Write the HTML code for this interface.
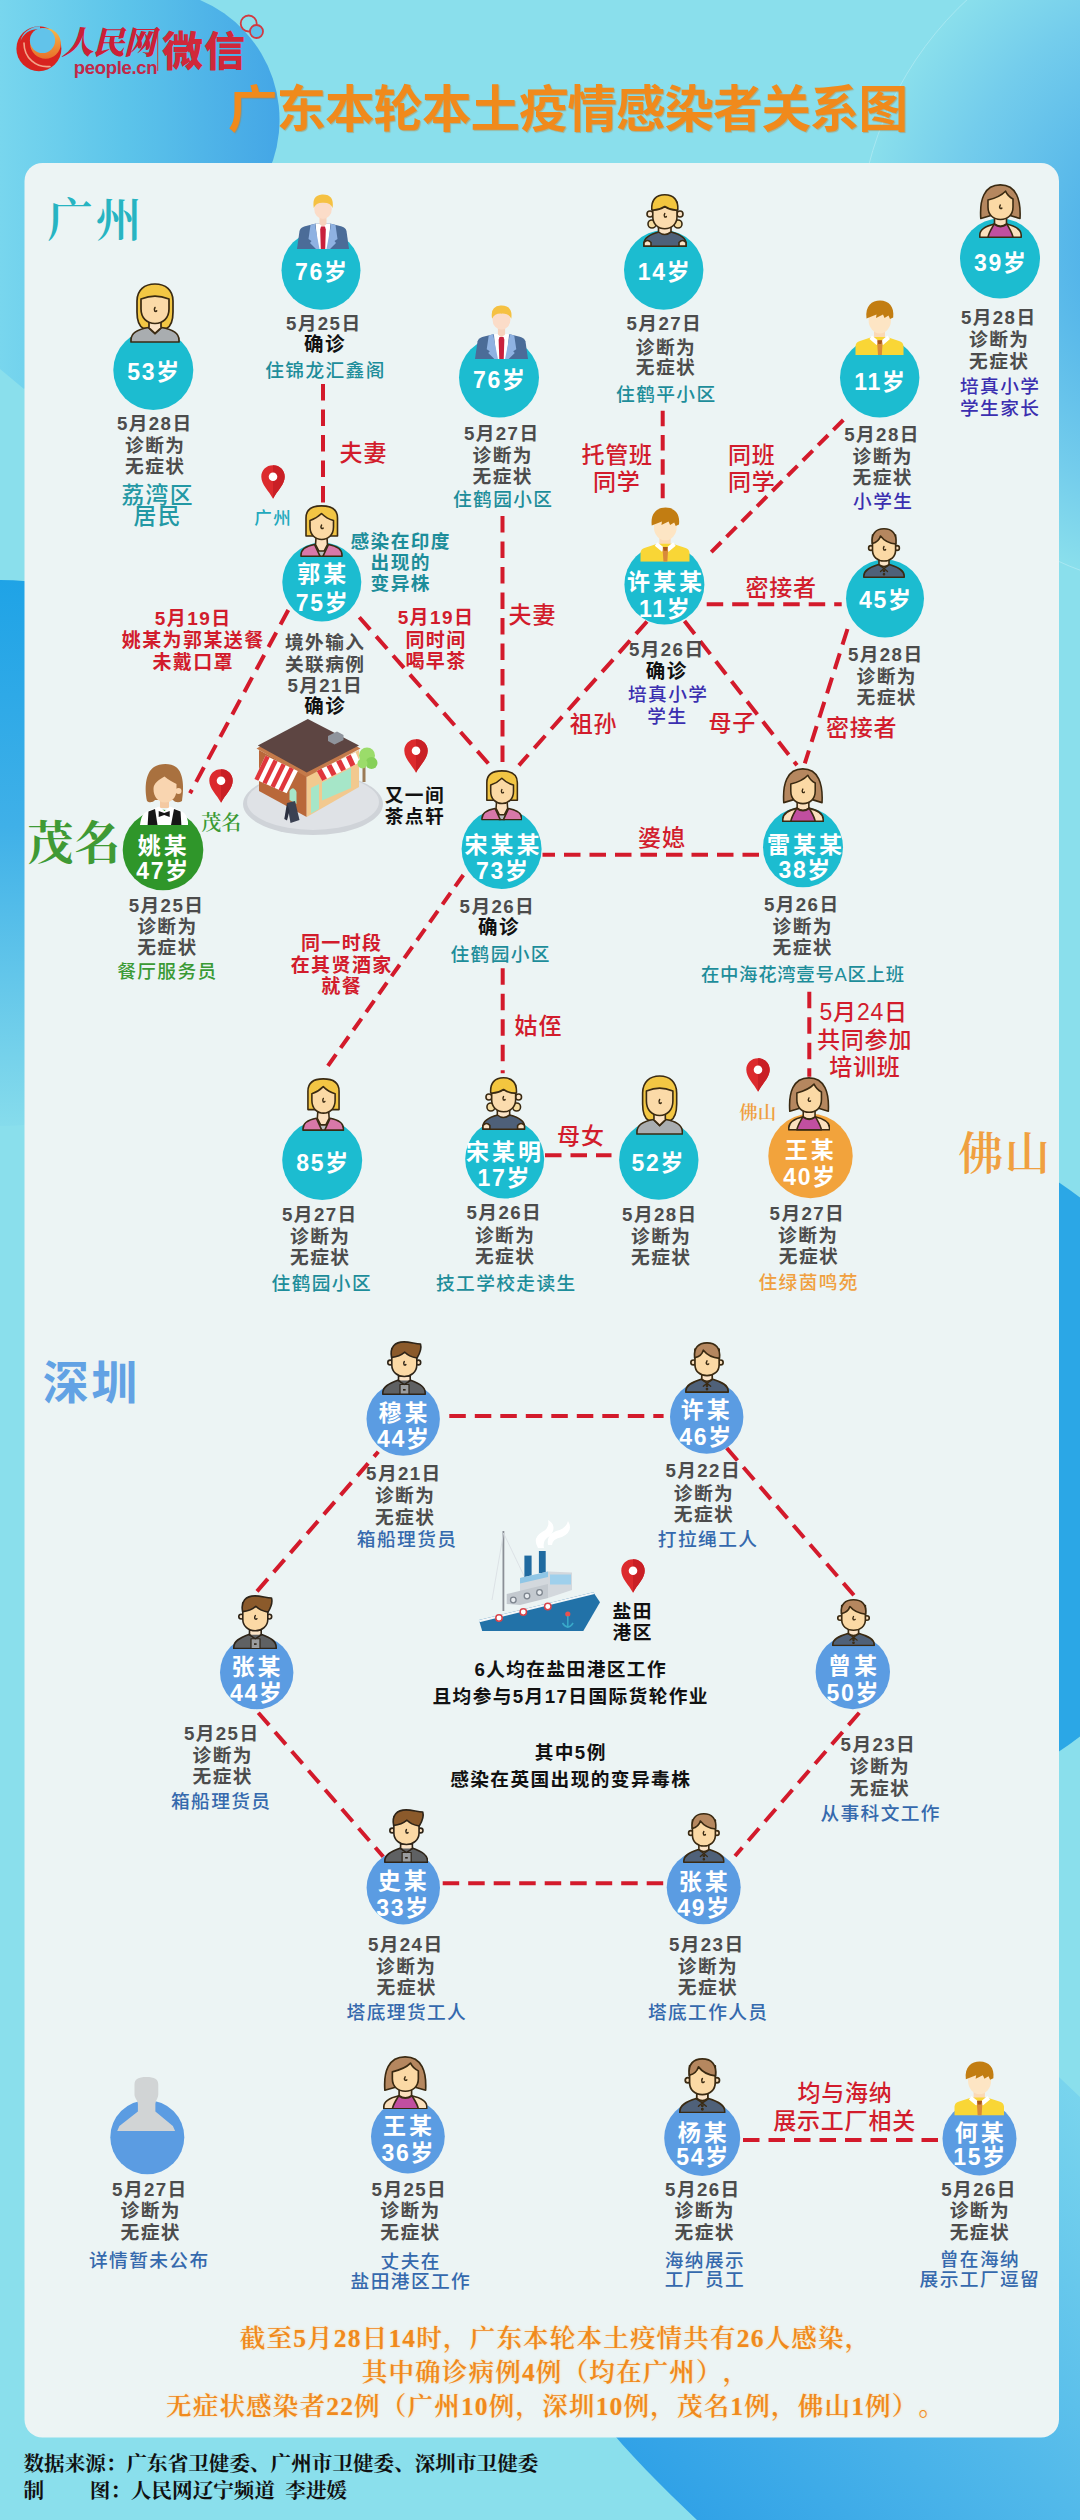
<!DOCTYPE html>
<html lang="zh-CN"><head><meta charset="utf-8"><title>广东本轮本土疫情感染者关系图</title>
<style>
html,body{margin:0;padding:0;background:#8adfec;}
body{width:1080px;height:2520px;overflow:hidden;}
#page{position:relative;width:1080px;height:2520px;overflow:hidden;font-family:"Liberation Sans","Noto Sans CJK SC",sans-serif;}
.abs{position:absolute;}
.t{position:absolute;white-space:nowrap;transform:translate(-50%,-50%);line-height:1;}
.w{color:#fff;font-weight:700;}
.g{font-weight:700;letter-spacing:1.4px;padding-left:1.4px;}
.b{font-weight:700;letter-spacing:1.4px;padding-left:1.4px;}
.bb{font-weight:700;}
.m{font-weight:700;letter-spacing:1.4px;padding-left:1.4px;}
.m2{font-weight:500;letter-spacing:0.3px;padding-left:0.3px;}
.r{font-weight:500;letter-spacing:1.4px;padding-left:1.4px;}
.rb{font-weight:700;letter-spacing:1.4px;padding-left:1.4px;}
.rl{font-weight:500;letter-spacing:0.8px;padding-left:0.8px;}
.s{font-family:"Liberation Serif","Noto Serif CJK SC",serif;}
.s2{font-family:"Liberation Serif","Noto Serif CJK SC",serif;font-weight:600;}
.sm{text-spacing-trim:space-all;font-family:"Liberation Serif","Noto Serif CJK SC",serif;font-weight:600;text-shadow:0 0 2px rgba(255,210,140,.9);}
.dg{font-weight:700;}
.sb{text-spacing-trim:space-all;font-family:"Liberation Serif","Noto Serif CJK SC",serif;font-weight:700;}
.l{transform:translate(0,-50%);}

</style></head><body>
<div id="page">
<svg class="abs" width="1080" height="2520" viewBox="0 0 1080 2520" style="left:0;top:0">
<defs>
<linearGradient id="gTL" x1="0" y1="0" x2="1" y2="0"><stop offset="0" stop-color="#78d6ee"/><stop offset="0.45" stop-color="#5cc4ea"/><stop offset="1" stop-color="#44a6e6"/></linearGradient>
<radialGradient id="gTR" gradientUnits="userSpaceOnUse" cx="1200" cy="250" r="342"><stop offset="0.3" stop-color="#50b2e9"/><stop offset="0.75" stop-color="#74cdec"/><stop offset="1" stop-color="#8adfec"/></radialGradient>
<linearGradient id="gL" x1="0" y1="0" x2="0" y2="1"><stop offset="0" stop-color="#1fa3e6"/><stop offset="0.45" stop-color="#3fb0e8"/><stop offset="1" stop-color="#86dcec"/></linearGradient>
<linearGradient id="gBR" gradientUnits="userSpaceOnUse" x1="1100" y1="2060" x2="620" y2="2520"><stop offset="0" stop-color="#7ed8ee"/><stop offset="0.5" stop-color="#52b9ea"/><stop offset="1" stop-color="#2a9de6"/></linearGradient>
</defs>
<rect width="1080" height="2520" fill="#8adfec"/>
<circle cx="1200" cy="250" r="342" fill="url(#gTR)" stroke="#a8e8f2" stroke-width="1"/>
<path d="M0,0 H200 A130,130 0 0 1 262,185 L24,389 L0,369 Z" fill="url(#gTL)"/>
<circle cx="0" cy="853" r="273" fill="url(#gL)"/>
<circle cx="871" cy="1467" r="341" fill="#2ba7e6"/>
<path d="M1040,2059 L1080,2097 L1080,2520 L697,2520 C660,2485 630,2455 600,2418 L600,2300 L1040,2300 Z" fill="url(#gBR)"/>
<rect x="24.5" y="163" width="1034.5" height="2274.5" rx="18" ry="18" fill="#ecf4f4"/>
</svg>

<svg width="0" height="0" style="position:absolute;left:0;top:0" aria-hidden="true">
<defs>
<!-- A businessman -->
<symbol id="av-A" viewBox="0 0 52 55" preserveAspectRatio="none">
<path d="M0,55 L2.5,37 Q3.5,33.5 8,32.3 L19,29.5 L33,29.5 L44,32.3 Q48.5,33.5 49.5,37 L52,55 Z" fill="#4b6c98"/>
<path d="M18.5,29.5 L33.5,29.5 L31,55 L21,55 Z" fill="#fff"/>
<path d="M19,29.5 L13.5,31 L11.5,45 L14.5,47 L13,49 L19,55 L22.5,55 L18,31 Z" fill="#8fb2e2"/>
<path d="M33,29.5 L38.5,31 L40.5,45 L37.5,47 L39,49 L33,55 L29.5,55 L34,31 Z" fill="#8fb2e2"/>
<path d="M22.5,23 H29.5 V30 L26,33 L22.500,30 Z" fill="#f6d3bd"/>
<ellipse cx="26" cy="15" rx="8.8" ry="10" fill="#fbdcc8"/>
<path d="M16.8,14 Q14.5,1.500 25,0.6 Q37.5,0 35.600,14 Q33.500,8.500 26,8.800 Q19,8.500 16.800,14 Z" fill="#f5c142"/>
<path d="M24,32.500 L28,32.500 L28.800,35.500 L28.200,55 L23.800,55 L23.200,35.500 Z" fill="#c9203c"/>
</symbol>
<!-- B blond long hair, grey top -->
<symbol id="av-B" viewBox="0 0 50 60" preserveAspectRatio="none">
<g stroke="#3a2a12" stroke-width="1.700" stroke-linejoin="round" stroke-linecap="round">
<path d="M13.500,45.500 C8.500,43 7,37 7,29 L7,18 C7,7 14.500,1 25,1 C35.500,1 43,7 43,18 L43,29 C43,37 41.500,43 36.500,45.500 Z" fill="#f3c744"/>
<path d="M1,59 L1,57 C1,50 8,46.200 18.500,44.500 L25,50.500 L31.500,44.500 C42,46.200 49,50 49,57 L49,59 Z" fill="#a9adb0"/>
<path d="M19,39 L19,45 L25,50.500 L31,45 L31,39 Z" fill="#fbe3c6"/>
<path d="M11,16 C15,14.500 20,13.200 25,13.200 C30,13.200 35,14.500 39,16 L39,26 C39,35 33,40.500 25,40.500 C17,40.500 11,35 11,26 Z" fill="#fbdaa8"/>
<path d="M25,24.500 q-1.300,2 -0.300,3.600 q1.300,0.700 2,-0.300" fill="none" stroke-width="1.500"/>
</g>
</symbol>
<!-- C blond bob, pink cardigan -->
<symbol id="av-C" viewBox="0 0 43 52" preserveAspectRatio="none">
<g stroke="#3a2a12" stroke-width="1.600" stroke-linejoin="round" stroke-linecap="round">
<path d="M6,31 L6,13 C6,4.500 12,0.900 21.500,0.900 C31,0.900 37.500,4.500 37.500,13 L37.500,31 L30,31 L13,31 Z" fill="#f2c544"/>
<path d="M16,33 L15.500,39.500 L21.500,51 L27.500,39.500 L27,33 Z" fill="#fbe0bd"/>
<path d="M16.500,46 L26.500,46 L24,51.200 L19,51.200 Z" fill="#b9bcc0"/>
<path d="M1,51.200 L1,50 C1,44 6,41 14.500,39.500 L20,51.200 Z" fill="#d878a9"/>
<path d="M42,51.200 L42,50 C42,44 37,41 28.500,39.500 L23,51.200 Z" fill="#d878a9"/>
<path d="M10,15.500 Q16.500,13.500 21.500,8.500 Q26.500,13.500 33.500,15.500 L33.500,22 C33.500,30 28,34.500 21.700,34.500 C15.500,34.500 10,30 10,22 Z" fill="#fbd9a5"/>
<path d="M21.600,20 q-1.200,1.800 -0.200,3.300 q1.200,0.600 1.800,-0.300" fill="none" stroke-width="1.400"/>
</g>
</symbol>
<!-- D girl with buns, slate top -->
<symbol id="av-D" viewBox="0 0 44 53" preserveAspectRatio="none">
<g stroke="#3a2a12" stroke-width="1.600" stroke-linejoin="round" stroke-linecap="round">
<circle cx="9" cy="30" r="4" fill="#f6dca0"/><circle cx="35" cy="30" r="4" fill="#f6dca0"/>
<circle cx="7" cy="20" r="3" fill="#fbe3c6"/><circle cx="37" cy="20" r="3" fill="#fbe3c6"/>
<path d="M0.800,52.200 L0.800,50 C0.800,43 8,40 16,38 L28,38 C36,40 43.200,43 43.200,50 L43.200,52.200 Z" fill="#4e6079"/>
<path d="M1,52 L1,48.500 Q4.500,44.500 8,48.500 L8,52 Z" fill="#fbe3c6"/>
<path d="M43,52 L43,48.500 Q39.500,44.500 36,48.500 L36,52 Z" fill="#fbe3c6"/>
<path d="M15.500,33 L15.500,38 Q21.700,43 28,38 L28,33 Z" fill="#fbe3c6"/>
<path d="M9.800,8 L9.800,23 C9.800,30 15,34.800 21.800,34.800 C28.500,34.800 34,30 34,23 L34,8 Z" fill="#fbdcae"/>
<path d="M8.800,16 C8,6 13,0.800 21.800,0.800 C30.500,0.800 35.500,6 34.800,16 C30,16.500 25.500,15 21.800,12.500 C18,15 13.500,16.500 8.800,16 Z" fill="#f3c63f"/>
<path d="M21.800,19.500 q-1.200,1.800 -0.200,3.300 q1.200,0.600 1.800,-0.300" fill="none" stroke-width="1.400"/>
</g>
</symbol>
<!-- E boy, yellow jacket -->
<symbol id="av-E" viewBox="0 0 49 55" preserveAspectRatio="none">
<path d="M19,30 H30 V40 H19 Z" fill="#fbd9b5"/>
<ellipse cx="24.800" cy="20" rx="11.200" ry="13.500" fill="#fde5c4"/>
<path d="M0.500,55 L0.500,46 Q0.800,42 5,41 L17,37 L32,37 L44,41 Q48.200,42 48.500,46 L48.500,55 Z" fill="#f9d636"/>
<path d="M17,35.500 L24.800,42 L32.500,35.500 L35,39 L28,45 L24.800,42 L21.500,45 L14.500,39 Z" fill="#fff"/>
<path d="M22.500,40.500 L27,40.500 L27.500,43.500 L26.800,55 L23,55 L22.200,43.500 Z" fill="#d98a3a"/>
<path d="M22.300,40.300 L27.300,40.300 L26.300,44 L23.300,44 Z" fill="#a9591b"/>
<path d="M11.500,18.500 C10,6 17,0.600 25,0.600 C34,0.600 39.500,7 38.200,17.500 L35,19 L33.500,15.500 L29.500,18 L28,14.500 L21,18 L21.500,14.500 Z" fill="#c27d12"/>
</symbol>
<!-- F brown hair woman, purple top -->
<symbol id="av-F" viewBox="0 0 43 54" preserveAspectRatio="none">
<g stroke="#3a2a12" stroke-width="1.600" stroke-linejoin="round" stroke-linecap="round">
<path d="M1.800,34.500 C0.500,16 5,0.900 21.300,0.900 C37.500,0.900 42,16 41,34.500 L31,31.500 L12,31.500 Z" fill="#b5875f"/>
<path d="M0.800,53.200 L0.800,51 C0.800,45 7,42 15.500,40 L27.500,40 C36,42 42.200,45 42.200,51 L42.200,53.200 Z" fill="#fbe0bd"/>
<path d="M15.500,34 L15.500,40 Q21.500,44.500 27.500,40 L27.500,34 Z" fill="#fbe0bd"/>
<path d="M15,40.200 Q21.500,45 28,40.200 C30,44 33,48 34,53.200 L9,53.200 C10,48 13,44 15,40.200 Z" fill="#c14fa0"/>
<path d="M9,16 C15,14.500 22,12 26.500,7.200 C28,10.500 31,13.500 34,15 L34,23 C34,31 28.500,35.500 21.500,35.500 C14.500,35.500 9,31 9,23 Z" fill="#fbd9a5"/>
<path d="M21.300,21 q-1.200,1.800 -0.200,3.300 q1.200,0.600 1.800,-0.300" fill="none" stroke-width="1.400"/>
</g>
</symbol>
<!-- G man brown hair, slate polo -->
<symbol id="av-G" viewBox="0 0 42 50" preserveAspectRatio="none">
<g stroke="#3a2a12" stroke-width="1.600" stroke-linejoin="round" stroke-linecap="round">
<circle cx="8" cy="20" r="2.400" fill="#fbe0bd"/><circle cx="34" cy="20" r="2.400" fill="#fbe0bd"/>
<path d="M0.800,49.200 L0.800,48 C0.800,42.500 6,39.500 15.500,36.500 L26.500,36.500 C36,39.500 41.200,42.500 41.200,48 L41.200,49.200 Z" fill="#4f6179"/>
<path d="M16,32 L16,36.500 Q21,40.500 26,36.500 L26,32 Z" fill="#fbe3c6"/>
<path d="M16,37 L21,40.500 L17.500,43.500 M26,37 L21,40.500 L24.500,43.500" fill="none" stroke-width="1.300"/>
<circle cx="21" cy="43" r="0.500" fill="#3a2a12"/><circle cx="21" cy="46.200" r="0.500" fill="#3a2a12"/>
<path d="M9.500,7 L9.500,22 C9.500,29 14.500,33 21,33 C27.500,33 32.600,29 32.600,22 L32.600,7 Z" fill="#fbd9a5"/>
<path d="M9.200,15.500 C8,5.500 13,0.800 21,0.800 C29,0.800 34,5.500 32.900,16 C27,15.500 21,12.500 17.500,8 C16.500,11.500 13.500,14.500 9.200,15.500 Z" fill="#b5875f"/>
<path d="M21,18.500 q-1.200,1.800 -0.200,3.300 q1.200,0.600 1.800,-0.300" fill="none" stroke-width="1.400"/>
</g>
</symbol>
<!-- H man quiff, dark grey suit -->
<symbol id="av-H" viewBox="0 0 44 54" preserveAspectRatio="none">
<g stroke="#2e2418" stroke-width="1.600" stroke-linejoin="round" stroke-linecap="round">
<circle cx="8.200" cy="21.500" r="2.400" fill="#fbe0bd"/><circle cx="36.300" cy="21.500" r="2.400" fill="#fbe0bd"/>
<path d="M0.800,53.200 L0.800,52 C0.800,46 6,43 16.500,39 L28,39 C38.500,43 43.200,46 43.200,52 L43.200,53.200 Z" fill="#5f6163"/>
<path d="M16.500,35 L16.500,39.500 L22.300,43 L28.200,39.500 L28.200,35 Z" fill="#fbe3c6"/>
<path d="M18,43.500 H27 V53.200 H18 Z" fill="#9b9d9f" stroke-width="1.200"/>
<path d="M16.500,39.500 L22.300,43.500 L28.200,39.500" fill="#5f6163" stroke-width="1.300"/>
<rect x="21" y="48" width="2.600" height="1.600" fill="#2e2418" stroke="none"/>
<path d="M9.800,8 L9.800,24 C9.800,31 15.500,35.500 22.300,35.500 C29,35.500 34.800,31 34.800,24 L34.800,8 Z" fill="#fbd9a5"/>
<path d="M9.600,16.500 C7.500,6 13,0.900 22,0.900 C28,0.900 33,2.800 38.500,3 C40,8 37.500,13 35,17 C30,16 25.500,14 22.800,11.200 C19.500,14 14.500,16 9.600,16.500 Z" fill="#8b5a2b"/>
<path d="M22.300,20.500 q-1.200,1.800 -0.200,3.300 q1.200,0.600 1.800,-0.300" fill="none" stroke-width="1.400"/>
</g>
</symbol>
<!-- I waitress -->
<symbol id="av-I" viewBox="0 0 48 62" preserveAspectRatio="none">
<path d="M7,38 C4.500,26 5,10 14,4 C20,0 31,0 36,4 C44,10 44,26 42,38 C39,40 35,39.500 33,37 L15,37 C13,39.500 9,40 7,38 Z" fill="#a9713f"/>
<circle cx="38.500" cy="28" r="3" fill="#f9d5b0"/>
<path d="M20,36 H29 V45 H20 Z" fill="#f4c9a2"/>
<path d="M13.500,26 C13.500,20 19,16.500 24.500,13.500 C28,17 33,19 36.500,21 L36.500,27 C36.500,35 31,39.500 25,39.500 C18.500,39.500 13.500,34 13.500,26 Z" fill="#f9d5b0"/>
<path d="M0,62 C1,54 3,50 8,48 L19,43.500 L24.500,48 L30,43.500 L41,48 C45.500,50 47.500,54 48.500,62 Z" fill="#fff"/>
<path d="M7.600,62 L8.500,48.500 L15,46 L17.500,62 Z" fill="#161616"/>
<path d="M41.400,62 L40.500,48.500 L34,46 L31,62 Z" fill="#161616"/>
<path d="M18.700,48 L24.200,50 L29.700,48 L29.700,54 L24.200,52 L18.700,54 Z" fill="#161616"/>
</symbol>
<!-- J silhouette -->
<symbol id="av-J" viewBox="0 0 60 56" preserveAspectRatio="none">
<path d="M18,8 C18,2 22,0 30.200,0 C38.500,0 42.500,2 42.500,8 L42.500,18 C42.500,21.500 40,23.500 39.500,27.500 L39.500,35.500 L57.500,50.500 L60,56 L0,56 L2.500,50.500 L21.500,35.500 L21.500,27.500 C21,23.500 18,21.500 18,18 Z" fill="#d1d4d5"/>
</symbol>
<!-- pin -->
<symbol id="pin" viewBox="0 0 24 34" preserveAspectRatio="none">
<path d="M12,0.300 C5.200,0.300 0.300,5.200 0.300,11.800 C0.300,19.500 7.500,25.500 12,33.700 C16.500,25.500 23.700,19.500 23.700,11.800 C23.700,5.200 18.800,0.300 12,0.300 Z" fill="#dc2a2d"/>
<path d="M12,0.300 C18.800,0.300 23.700,5.200 23.700,11.800 C23.700,19.500 16.500,25.500 12,33.700 Z" fill="#c91f25"/>
<circle cx="12" cy="11.800" r="4.300" fill="#fff"/>
</symbol>
</defs>
</svg>

<svg class="abs" width="1080" height="2520" viewBox="0 0 1080 2520" style="left:0;top:0">
<g fill="none" stroke="#d31a2b" stroke-width="4">
<line x1="323" y1="384" x2="323" y2="503" stroke-dasharray="16.5 9" stroke-dashoffset="0"/>
<line x1="502.5" y1="516" x2="502.5" y2="762" stroke-dasharray="16.5 9" stroke-dashoffset="0"/>
<line x1="662.7" y1="410.7" x2="662.7" y2="498.3" stroke-dasharray="15.5 8.8" stroke-dashoffset="0"/>
<line x1="843.3" y1="420" x2="706.7" y2="556.7" stroke-dasharray="14 7.6" stroke-dashoffset="0"/>
<line x1="706.7" y1="604.3" x2="841.7" y2="604.3" stroke-dasharray="16.5 9" stroke-dashoffset="0"/>
<line x1="847.5" y1="629" x2="804.8" y2="763.4" stroke-dasharray="16.5 9" stroke-dashoffset="0"/>
<line x1="647" y1="621.5" x2="518.9" y2="765.3" stroke-dasharray="16.5 9" stroke-dashoffset="0"/>
<line x1="684.5" y1="621" x2="797" y2="765.3" stroke-dasharray="16.5 9" stroke-dashoffset="0"/>
<line x1="359.3" y1="617.3" x2="488.8" y2="764" stroke-dasharray="16.5 9" stroke-dashoffset="0"/>
<line x1="288.3" y1="610" x2="190" y2="793.3" stroke-dasharray="16.5 9" stroke-dashoffset="0"/>
<line x1="542.5" y1="854.8" x2="759.5" y2="854.8" stroke-dasharray="16.5 9" stroke-dashoffset="4"/>
<line x1="463.3" y1="875" x2="325" y2="1070" stroke-dasharray="14 8" stroke-dashoffset="0"/>
<line x1="502.7" y1="968.3" x2="502.7" y2="1073.3" stroke-dasharray="16.5 9" stroke-dashoffset="0"/>
<line x1="545" y1="1155.3" x2="611.5" y2="1155.3" stroke-dasharray="16.5 9" stroke-dashoffset="0"/>
<line x1="809.3" y1="991.7" x2="809.3" y2="1076.7" stroke-dasharray="16.5 9" stroke-dashoffset="0"/>
<line x1="449.3" y1="1416" x2="663.6" y2="1416" stroke-dasharray="16.5 9" stroke-dashoffset="0"/>
<line x1="378.3" y1="1451.7" x2="256.7" y2="1591.7" stroke-dasharray="16.5 9" stroke-dashoffset="10"/>
<line x1="726.7" y1="1448" x2="853.9" y2="1595.3" stroke-dasharray="16.5 9" stroke-dashoffset="0"/>
<line x1="258.3" y1="1712.7" x2="383.3" y2="1856.7" stroke-dasharray="16.5 9" stroke-dashoffset="0"/>
<line x1="859.3" y1="1712.7" x2="735" y2="1856" stroke-dasharray="16.5 9" stroke-dashoffset="0"/>
<line x1="442.7" y1="1883.3" x2="666.7" y2="1883.3" stroke-dasharray="16.5 9" stroke-dashoffset="0"/>
<line x1="743" y1="2140" x2="939.5" y2="2140" stroke-dasharray="16.5 9" stroke-dashoffset="0"/>
</g>
<circle cx="321" cy="270.3" r="39.5" fill="#1cbcd0"/>
<circle cx="153.3" cy="370" r="40" fill="#1cbcd0"/>
<circle cx="499" cy="377.5" r="40" fill="#1cbcd0"/>
<circle cx="663.7" cy="270" r="39.7" fill="#1cbcd0"/>
<circle cx="1000" cy="258.5" r="40" fill="#1cbcd0"/>
<circle cx="879.7" cy="377.7" r="39.7" fill="#1cbcd0"/>
<circle cx="321.8" cy="582" r="39.5" fill="#1cbcd0"/>
<circle cx="664.4" cy="584.5" r="40" fill="#1cbcd0"/>
<circle cx="885" cy="598.5" r="39" fill="#1cbcd0"/>
<circle cx="501.6" cy="849" r="40" fill="#1cbcd0"/>
<circle cx="803" cy="847.2" r="40" fill="#1cbcd0"/>
<circle cx="322.2" cy="1160" r="40" fill="#1cbcd0"/>
<circle cx="504.7" cy="1159" r="39.5" fill="#1cbcd0"/>
<circle cx="658.8" cy="1160" r="39.7" fill="#1cbcd0"/>
<circle cx="163" cy="850" r="40.3" fill="#2f962a"/>
<circle cx="810.5" cy="1156" r="42.2" fill="#f2a33c"/>
<circle cx="403.2" cy="1419" r="36.7" fill="#5b9ce2"/>
<circle cx="706.7" cy="1417" r="36.7" fill="#5b9ce2"/>
<circle cx="256.7" cy="1672.5" r="36.7" fill="#5b9ce2"/>
<circle cx="852.8" cy="1672" r="37.2" fill="#5b9ce2"/>
<circle cx="403.3" cy="1887.7" r="36.7" fill="#5b9ce2"/>
<circle cx="703.7" cy="1887.3" r="37" fill="#5b9ce2"/>
<circle cx="147.3" cy="2137.2" r="37" fill="#5b9ce2"/>
<circle cx="407.9" cy="2136.5" r="36.9" fill="#5b9ce2"/>
<circle cx="702.2" cy="2138" r="38" fill="#5b9ce2"/>
<circle cx="979.5" cy="2138.4" r="37" fill="#5b9ce2"/>
</svg>
<svg class="abs" style="left:297px;top:194px" width="52" height="55"><use href="#av-A" width="52" height="55"/></svg>
<svg class="abs" style="left:130px;top:283px" width="50" height="60"><use href="#av-B" width="50" height="60"/></svg>
<svg class="abs" style="left:475px;top:305px" width="53" height="54"><use href="#av-A" width="53" height="54"/></svg>
<svg class="abs" style="left:643px;top:194px" width="44" height="53"><use href="#av-D" width="44" height="53"/></svg>
<svg class="abs" style="left:979px;top:184px" width="43" height="54"><use href="#av-F" width="43" height="54"/></svg>
<svg class="abs" style="left:855px;top:300px" width="49" height="55"><use href="#av-E" width="49" height="55"/></svg>
<svg class="abs" style="left:300px;top:505px" width="43" height="52"><use href="#av-C" width="43" height="52"/></svg>
<svg class="abs" style="left:640px;top:507px" width="50" height="54.7"><use href="#av-E" width="50" height="54.7"/></svg>
<svg class="abs" style="left:863px;top:528px" width="42" height="50"><use href="#av-G" width="42" height="50"/></svg>
<svg class="abs" style="left:480.8px;top:770.2px" width="41.7" height="50.6"><use href="#av-C" width="41.7" height="50.6"/></svg>
<svg class="abs" style="left:781.8px;top:768px" width="42" height="54.2"><use href="#av-F" width="42" height="54.2"/></svg>
<svg class="abs" style="left:302px;top:1078px" width="42.5" height="53"><use href="#av-C" width="42.5" height="53"/></svg>
<svg class="abs" style="left:482px;top:1077px" width="43.5" height="53"><use href="#av-D" width="43.5" height="53"/></svg>
<svg class="abs" style="left:636px;top:1075px" width="47.3" height="60"><use href="#av-B" width="47.3" height="60"/></svg>
<svg class="abs" style="left:140px;top:763px" width="48" height="62"><use href="#av-I" width="48" height="62"/></svg>
<svg class="abs" style="left:787.7px;top:1077.3px" width="42.3" height="53.7"><use href="#av-F" width="42.3" height="53.7"/></svg>
<svg class="abs" style="left:382px;top:1341px" width="44" height="54"><use href="#av-H" width="44" height="54"/></svg>
<svg class="abs" style="left:685px;top:1342px" width="44" height="51"><use href="#av-G" width="44" height="51"/></svg>
<svg class="abs" style="left:233.3px;top:1595px" width="44" height="54.3"><use href="#av-H" width="44" height="54.3"/></svg>
<svg class="abs" style="left:831.7px;top:1599.4px" width="43" height="47.3"><use href="#av-G" width="43" height="47.3"/></svg>
<svg class="abs" style="left:384px;top:1809.3px" width="44.3" height="54"><use href="#av-H" width="44.3" height="54"/></svg>
<svg class="abs" style="left:683.3px;top:1813.3px" width="41.7" height="50"><use href="#av-G" width="41.7" height="50"/></svg>
<svg class="abs" style="left:117px;top:2077px" width="58.3" height="54.4"><use href="#av-J" width="58.3" height="54.4"/></svg>
<svg class="abs" style="left:383.4px;top:2055.6px" width="44.7" height="53.6"><use href="#av-F" width="44.7" height="53.6"/></svg>
<svg class="abs" style="left:678.9px;top:2057.5px" width="46.7" height="55.5"><use href="#av-G" width="46.7" height="55.5"/></svg>
<svg class="abs" style="left:954.3px;top:2061.4px" width="50.5" height="54.4"><use href="#av-E" width="50.5" height="54.4"/></svg>
<!-- pins -->
<svg class="abs" style="left:261px;top:465px" width="24" height="34"><use href="#pin" width="24" height="34"/></svg>
<svg class="abs" style="left:209px;top:769px" width="24" height="34"><use href="#pin" width="24" height="34"/></svg>
<svg class="abs" style="left:404px;top:739px" width="24" height="34"><use href="#pin" width="24" height="34"/></svg>
<svg class="abs" style="left:746px;top:1058px" width="24" height="34"><use href="#pin" width="24" height="34"/></svg>
<svg class="abs" style="left:621px;top:1559px" width="24" height="34"><use href="#pin" width="24" height="34"/></svg>
<!-- shop -->
<svg class="abs" style="left:240px;top:715px" width="150" height="125" viewBox="240 715 150 125">
<ellipse cx="313" cy="804" rx="70" ry="31" fill="#cfd3d8"/>
<ellipse cx="313" cy="802" rx="66" ry="28" fill="#dfe2e6"/>
<path d="M259,750 L306.700,775.600 L306.700,817 L259,791 Z" fill="#b9683a"/>
<path d="M306.700,775.600 L359,750 L359,787 L306.700,817 Z" fill="#f2c98f"/>
<path d="M322,782.500 L351,768 L351,788 L322,800.500 Z" fill="#a6e6c8"/>
<path d="M311,788 L319,784 L319,809 L311,813.500 Z" fill="#a6e6c8"/>
<path d="M289.500,800 L289.500,791 q3.500,-6 7,1 L296.500,804 Z" fill="#a6e6c8"/>
<path d="M256.500,748.500 L307.800,720 L360.500,748.500 L306.700,777 Z" fill="#c47a4a"/>
<path d="M257.800,745.500 L307.800,719 L359,745.500 L306.700,772.500 Z" fill="#5d4542"/>
<path d="M328,736 L337,731.500 L343.500,735 L343.500,740 L334.500,744.500 L328,741 Z" fill="#8f949c"/>
<path d="M265.600,755.600 L297.800,771 L286.700,793.300 L254.400,778.900 Z" fill="#fff"/>
<g fill="#e0363c"><path d="M265.600,755.600 L269.600,757.500 L258.400,780.700 L254.400,778.900 Z"/><path d="M273.600,759.400 L277.700,761.400 L266.500,784.300 L262.500,782.500 Z"/><path d="M281.700,763.300 L285.700,765.200 L274.600,787.900 L270.500,786.100 Z"/><path d="M289.700,767.100 L293.800,769.100 L282.700,791.500 L278.600,789.700 Z"/></g>
<path d="M316.700,771 L355.600,752.200 L360,762.200 L322.200,781 Z" fill="#fff"/>
<g fill="#e0363c"><path d="M316.700,771 L321.600,768.600 L327,778.600 L322.200,781 Z"/><path d="M326.400,766.300 L331.300,763.900 L336.500,773.900 L331.700,776.300 Z"/><path d="M336.100,761.600 L341,759.200 L346,769.200 L341.200,771.600 Z"/><path d="M345.900,756.900 L350.700,754.500 L355.300,764.500 L350.600,766.900 Z"/></g>
<rect x="362.500" y="764" width="3" height="18" fill="#9a7a55"/>
<circle cx="367" cy="755.500" r="8" fill="#9bdc6a"/><circle cx="371.500" cy="763" r="6" fill="#86d058"/><circle cx="362.500" cy="763.500" r="5" fill="#9bdc6a"/>
<path d="M287,803 L295,801 L299.500,820 L290.500,823 Z" fill="#3b4152"/><path d="M287,803 L284.300,819 L287,820.500 L289.500,811 Z" fill="#2c3040"/>
</svg>
<!-- ship -->
<svg class="abs" style="left:470px;top:1510px" width="140" height="130" viewBox="470 1510 140 130">
<path d="M538,1548 q-6,-10 4,-16 q8,-4 6,-12 q10,6 2,16 q-8,4 -6,12 Z" fill="#fff"/>
<path d="M548,1545 q-2,-10 8,-14 q10,-2 12,-10 q6,10 -6,16 q-10,2 -10,8 Z" fill="#fff"/>
<rect x="502.500" y="1531" width="1.800" height="80" fill="#8a8f96"/>
<path d="M503.500,1533 L525,1578 M503.500,1533 L492,1600" stroke="#d8dde2" stroke-width="0.800" fill="none"/>
<rect x="524.400" y="1555.600" width="7.200" height="22" fill="#1f6aa0"/>
<rect x="538.900" y="1551" width="6.800" height="22" fill="#1f6aa0"/>
<path d="M520,1601 L520,1578 L548,1571.500 L572,1572.500 L572,1590 L548,1598 Z" fill="#d3d8dd"/>
<path d="M520,1578 L548,1571.500 L548,1577 L520,1583.500 Z" fill="#8fc6e6"/>
<rect x="550" y="1574.500" width="21" height="10" fill="#9fd0ec"/>
<path d="M506.700,1604 L506.700,1594 L548,1584 L548,1598 L520,1605 Z" fill="#c3c9cf"/>
<g fill="#e8ecf0" stroke="#7d858e" stroke-width="1.300"><circle cx="513.300" cy="1600" r="2.800"/><circle cx="527" cy="1596" r="2.800"/><circle cx="539.500" cy="1592.500" r="2.800"/></g>
<path d="M478.900,1620 L593.300,1592.200 L600,1602.200 L583.300,1631 L482.200,1631 Z" fill="#2272a8"/>
<path d="M478.900,1620 L593.300,1592.200 L594.500,1594 L479.500,1622.200 Z" fill="#f4f7f9"/>
<g fill="#fff" stroke="#d9434a" stroke-width="1.500"><circle cx="499" cy="1618" r="3.200"/><circle cx="523.300" cy="1612" r="3.200"/><circle cx="547.800" cy="1606.500" r="3.200"/></g>
<circle cx="567.800" cy="1614" r="2.600" fill="#e8524f"/>
<path d="M567.800,1616 L567.800,1628 M562.500,1623 q5.300,8 10.600,0" stroke="#39a9c9" stroke-width="1.500" fill="none"/>
</svg>
<!-- logo -->
<svg class="abs" style="left:10px;top:14px" width="260" height="70" viewBox="10 14 260 70">
<defs><linearGradient id="lgO" x1="0" y1="0" x2="0" y2="1"><stop offset="0" stop-color="#f6b94a"/><stop offset="1" stop-color="#e8702a"/></linearGradient></defs>
<circle cx="38.900" cy="48.700" r="22.500" fill="#d8231f"/>
<path d="M24,43 C24,58 36,68 50,66.500" fill="none" stroke="#f3a58a" stroke-width="1.600" stroke-linecap="round"/>
<circle cx="45.500" cy="43.500" r="15.300" fill="url(#lgO)"/>
<circle cx="42.500" cy="40.500" r="12.600" fill="#62c3ea"/>
<path d="M40,26.300 C30,26.500 22,33 20.500,41 C24,33 31,28.500 40,29.500 Z" fill="#62c3ea"/>
<rect x="157" y="31" width="1.200" height="40" fill="#b65a4e"/>
<circle cx="248.700" cy="23.500" r="8" fill="none" stroke="#d23a40" stroke-width="1.800"/>
<circle cx="256.500" cy="31.500" r="6.500" fill="#5fbfea" stroke="#d23a40" stroke-width="1.800"/>
</svg>
<div class="t" style="left:111px;top:42.500px;font-size:32px;color:#cc2036;font-family:'Liberation Serif','Noto Serif CJK SC',serif;font-weight:900;transform:translate(-50%,-50%) skewX(-14deg);letter-spacing:-1px">人民网</div>
<div class="t" style="left:115.500px;top:67.500px;font-size:18.500px;color:#c22848;font-weight:700;letter-spacing:-0.300px">people.cn</div>
<div class="t" style="left:204px;top:51.500px;font-size:41px;color:#d0283a;font-weight:900;letter-spacing:1px">微信</div>

<div class="t w" style="left:321px;top:272px;font-size:23px;letter-spacing:1.7px;padding-left:1.7px">76岁</div>
<div class="t w" style="left:153.3px;top:371.5px;font-size:23px;letter-spacing:1.7px;padding-left:1.7px">53岁</div>
<div class="t w" style="left:499px;top:380px;font-size:23px;letter-spacing:1.7px;padding-left:1.7px">76岁</div>
<div class="t w" style="left:663.7px;top:271.5px;font-size:23px;letter-spacing:1.7px;padding-left:1.7px">14岁</div>
<div class="t w" style="left:1000px;top:263.3px;font-size:23px;letter-spacing:1.7px;padding-left:1.7px">39岁</div>
<div class="t w" style="left:879.7px;top:382px;font-size:23px;letter-spacing:1.7px;padding-left:1.7px">11岁</div>
<div class="t w" style="left:321.8px;top:574.4px;font-size:23px;letter-spacing:3px;padding-left:3px">郭某</div>
<div class="t w" style="left:321.8px;top:603px;font-size:23px;letter-spacing:1.7px;padding-left:1.7px">75岁</div>
<div class="t w" style="left:664.4px;top:582.4px;font-size:23px;letter-spacing:3px;padding-left:3px">许某某</div>
<div class="t w" style="left:664.4px;top:608.5px;font-size:23px;letter-spacing:1.7px;padding-left:1.7px">11岁</div>
<div class="t w" style="left:885px;top:600px;font-size:23px;letter-spacing:1.7px;padding-left:1.7px">45岁</div>
<div class="t w" style="left:502px;top:844.5px;font-size:23px;letter-spacing:3px;padding-left:3px">宋某某</div>
<div class="t w" style="left:502px;top:871.4px;font-size:23px;letter-spacing:1.7px;padding-left:1.7px">73岁</div>
<div class="t w" style="left:804.4px;top:845px;font-size:23px;letter-spacing:3px;padding-left:3px">雷某某</div>
<div class="t w" style="left:804.4px;top:870.4px;font-size:23px;letter-spacing:1.7px;padding-left:1.7px">38岁</div>
<div class="t w" style="left:322.2px;top:1163px;font-size:23px;letter-spacing:1.7px;padding-left:1.7px">85岁</div>
<div class="t w" style="left:503.6px;top:1152px;font-size:23px;letter-spacing:3px;padding-left:3px">宋某明</div>
<div class="t w" style="left:503.6px;top:1177.8px;font-size:23px;letter-spacing:1.7px;padding-left:1.7px">17岁</div>
<div class="t w" style="left:657.5px;top:1162.7px;font-size:23px;letter-spacing:1.7px;padding-left:1.7px">52岁</div>
<div class="t w" style="left:162.2px;top:845.6px;font-size:23px;letter-spacing:3px;padding-left:3px">姚某</div>
<div class="t w" style="left:162.2px;top:871px;font-size:23px;letter-spacing:1.7px;padding-left:1.7px">47岁</div>
<div class="t w" style="left:809.3px;top:1150px;font-size:23px;letter-spacing:3px;padding-left:3px">王某</div>
<div class="t w" style="left:809.3px;top:1176.7px;font-size:23px;letter-spacing:1.7px;padding-left:1.7px">40岁</div>
<div class="t w" style="left:403px;top:1413px;font-size:23px;letter-spacing:3px;padding-left:3px">穆某</div>
<div class="t w" style="left:403px;top:1439px;font-size:23px;letter-spacing:1.7px;padding-left:1.7px">44岁</div>
<div class="t w" style="left:705.3px;top:1409.5px;font-size:23px;letter-spacing:3px;padding-left:3px">许某</div>
<div class="t w" style="left:705.3px;top:1437px;font-size:23px;letter-spacing:1.7px;padding-left:1.7px">46岁</div>
<div class="t w" style="left:256px;top:1666.7px;font-size:23px;letter-spacing:3px;padding-left:3px">张某</div>
<div class="t w" style="left:256px;top:1693.3px;font-size:23px;letter-spacing:1.7px;padding-left:1.7px">44岁</div>
<div class="t w" style="left:852.5px;top:1666px;font-size:23px;letter-spacing:3px;padding-left:3px">曾某</div>
<div class="t w" style="left:852.5px;top:1692.5px;font-size:23px;letter-spacing:1.7px;padding-left:1.7px">50岁</div>
<div class="t w" style="left:402.3px;top:1880.7px;font-size:23px;letter-spacing:3px;padding-left:3px">史某</div>
<div class="t w" style="left:402.3px;top:1908.3px;font-size:23px;letter-spacing:1.7px;padding-left:1.7px">33岁</div>
<div class="t w" style="left:703.3px;top:1881.7px;font-size:23px;letter-spacing:3px;padding-left:3px">张某</div>
<div class="t w" style="left:703.3px;top:1908.3px;font-size:23px;letter-spacing:1.7px;padding-left:1.7px">49岁</div>
<div class="t w" style="left:407.5px;top:2126.3px;font-size:23px;letter-spacing:3px;padding-left:3px">王某</div>
<div class="t w" style="left:407.5px;top:2152.8px;font-size:23px;letter-spacing:1.7px;padding-left:1.7px">36岁</div>
<div class="t w" style="left:702.2px;top:2132.6px;font-size:23px;letter-spacing:3px;padding-left:3px">杨某</div>
<div class="t w" style="left:702.2px;top:2156.7px;font-size:23px;letter-spacing:1.7px;padding-left:1.7px">54岁</div>
<div class="t w" style="left:979.2px;top:2132.6px;font-size:23px;letter-spacing:3px;padding-left:3px">何某</div>
<div class="t w" style="left:979.2px;top:2156.7px;font-size:23px;letter-spacing:1.7px;padding-left:1.7px">15岁</div>
<div class="t g" style="left:154px;top:423.5px;font-size:18.7px;color:#4c4c4c;">5月28日</div>
<div class="t g" style="left:154.5px;top:445.5px;font-size:18.7px;color:#4c4c4c;">诊断为</div>
<div class="t g" style="left:154.5px;top:466.5px;font-size:18.7px;color:#4c4c4c;">无症状</div>
<div class="t r" style="left:157px;top:494.5px;font-size:22.8px;color:#2398a4;">荔湾区</div>
<div class="t r" style="left:157px;top:516px;font-size:22.8px;color:#2398a4;">居民</div>
<div class="t g" style="left:323px;top:324px;font-size:18.7px;color:#4c4c4c;">5月25日</div>
<div class="t b" style="left:324.2px;top:345.3px;font-size:19.5px;color:#111;">确诊</div>
<div class="t r" style="left:324.8px;top:371.3px;font-size:18.7px;color:#1d8d9a;">住锦龙汇鑫阁</div>
<div class="t g" style="left:501px;top:433.5px;font-size:18.7px;color:#4c4c4c;">5月27日</div>
<div class="t g" style="left:502px;top:455.5px;font-size:18.7px;color:#4c4c4c;">诊断为</div>
<div class="t g" style="left:502px;top:476.5px;font-size:18.7px;color:#4c4c4c;">无症状</div>
<div class="t r" style="left:502.5px;top:499.5px;font-size:18.7px;color:#1d8d9a;">住鹤园小区</div>
<div class="t g" style="left:663.6px;top:324.4px;font-size:18.7px;color:#4c4c4c;">5月27日</div>
<div class="t g" style="left:665.3px;top:347.5px;font-size:18.7px;color:#4c4c4c;">诊断为</div>
<div class="t g" style="left:665.3px;top:368px;font-size:18.7px;color:#4c4c4c;">无症状</div>
<div class="t r" style="left:665.6px;top:395px;font-size:18.7px;color:#1d8d9a;">住鹤平小区</div>
<div class="t g" style="left:998px;top:318px;font-size:18.7px;color:#4c4c4c;">5月28日</div>
<div class="t g" style="left:998.5px;top:340px;font-size:18.7px;color:#4c4c4c;">诊断为</div>
<div class="t g" style="left:998.5px;top:361.5px;font-size:18.7px;color:#4c4c4c;">无症状</div>
<div class="t r" style="left:999.5px;top:386.5px;font-size:18.7px;color:#3b2fb0;">培真小学</div>
<div class="t r" style="left:999.5px;top:408.5px;font-size:18.7px;color:#3b2fb0;">学生家长</div>
<div class="t g" style="left:881.3px;top:435px;font-size:18.7px;color:#4c4c4c;">5月28日</div>
<div class="t g" style="left:882px;top:457px;font-size:18.7px;color:#4c4c4c;">诊断为</div>
<div class="t g" style="left:882px;top:478px;font-size:18.7px;color:#4c4c4c;">无症状</div>
<div class="t r" style="left:882.5px;top:501.7px;font-size:18.7px;color:#3b2fb0;">小学生</div>
<div class="t m" style="left:400px;top:541.7px;font-size:18.7px;color:#1d8d9a;">感染在印度</div>
<div class="t m" style="left:400px;top:563px;font-size:18.7px;color:#1d8d9a;">出现的</div>
<div class="t m" style="left:400px;top:584px;font-size:18.7px;color:#1d8d9a;">变异株</div>
<div class="t g" style="left:324.5px;top:643.3px;font-size:18.7px;color:#4c4c4c;">境外输入</div>
<div class="t g" style="left:324.5px;top:665px;font-size:18.7px;color:#4c4c4c;">关联病例</div>
<div class="t g" style="left:324.5px;top:686px;font-size:18.7px;color:#4c4c4c;">5月21日</div>
<div class="t b" style="left:324.5px;top:706.7px;font-size:19.5px;color:#111;">确诊</div>
<div class="t g" style="left:666px;top:649.8px;font-size:18.7px;color:#4c4c4c;">5月26日</div>
<div class="t b" style="left:666px;top:672px;font-size:19.5px;color:#111;">确诊</div>
<div class="t r" style="left:667.5px;top:695.3px;font-size:18.7px;color:#3b2fb0;">培真小学</div>
<div class="t r" style="left:666.7px;top:716.7px;font-size:18.7px;color:#3b2fb0;">学生</div>
<div class="t g" style="left:885px;top:654.5px;font-size:18.7px;color:#4c4c4c;">5月28日</div>
<div class="t g" style="left:886px;top:676.5px;font-size:18.7px;color:#4c4c4c;">诊断为</div>
<div class="t g" style="left:886px;top:697.5px;font-size:18.7px;color:#4c4c4c;">无症状</div>
<div class="t g" style="left:496.7px;top:906.7px;font-size:18.7px;color:#4c4c4c;">5月26日</div>
<div class="t b" style="left:498.3px;top:928.3px;font-size:19.5px;color:#111;">确诊</div>
<div class="t r" style="left:500px;top:955px;font-size:18.7px;color:#1d8d9a;">住鹤园小区</div>
<div class="t g" style="left:801px;top:904.5px;font-size:18.7px;color:#4c4c4c;">5月26日</div>
<div class="t g" style="left:802px;top:926.5px;font-size:18.7px;color:#4c4c4c;">诊断为</div>
<div class="t g" style="left:802px;top:947.5px;font-size:18.7px;color:#4c4c4c;">无症状</div>
<div class="t r" style="left:802.5px;top:975px;font-size:18.4px;color:#1d8d9a;letter-spacing:0.7px;padding-left:0.7px">在中海花湾壹号A区上班</div>
<div class="t g" style="left:165.8px;top:905.6px;font-size:18.7px;color:#4c4c4c;">5月25日</div>
<div class="t g" style="left:166.7px;top:926.7px;font-size:18.7px;color:#4c4c4c;">诊断为</div>
<div class="t g" style="left:166.7px;top:947.8px;font-size:18.7px;color:#4c4c4c;">无症状</div>
<div class="t r" style="left:166.7px;top:971.5px;font-size:18.7px;color:#3a9a34;">餐厅服务员</div>
<div class="t g" style="left:319.1px;top:1214.7px;font-size:18.7px;color:#4c4c4c;">5月27日</div>
<div class="t g" style="left:319.5px;top:1236.9px;font-size:18.7px;color:#4c4c4c;">诊断为</div>
<div class="t g" style="left:319.5px;top:1257.8px;font-size:18.7px;color:#4c4c4c;">无症状</div>
<div class="t r" style="left:321.1px;top:1283.6px;font-size:18.7px;color:#1d8d9a;">住鹤园小区</div>
<div class="t g" style="left:503.6px;top:1213.3px;font-size:18.7px;color:#4c4c4c;">5月26日</div>
<div class="t g" style="left:504.4px;top:1235.5px;font-size:18.7px;color:#4c4c4c;">诊断为</div>
<div class="t g" style="left:504.4px;top:1256.5px;font-size:18.7px;color:#4c4c4c;">无症状</div>
<div class="t r" style="left:505.6px;top:1283.6px;font-size:18.7px;color:#1d8d9a;">技工学校走读生</div>
<div class="t g" style="left:659.2px;top:1215px;font-size:18.7px;color:#4c4c4c;">5月28日</div>
<div class="t g" style="left:660.5px;top:1236.7px;font-size:18.7px;color:#4c4c4c;">诊断为</div>
<div class="t g" style="left:660.5px;top:1257.7px;font-size:18.7px;color:#4c4c4c;">无症状</div>
<div class="t g" style="left:806.7px;top:1214px;font-size:18.7px;color:#4c4c4c;">5月27日</div>
<div class="t g" style="left:807.5px;top:1235.7px;font-size:18.7px;color:#4c4c4c;">诊断为</div>
<div class="t g" style="left:808.3px;top:1256.7px;font-size:18.7px;color:#4c4c4c;">无症状</div>
<div class="t r" style="left:808px;top:1282.7px;font-size:18.7px;color:#f0a040;">住绿茵鸣苑</div>
<div class="t g" style="left:403.2px;top:1473.6px;font-size:18.7px;color:#4c4c4c;">5月21日</div>
<div class="t g" style="left:404.4px;top:1496px;font-size:18.7px;color:#4c4c4c;">诊断为</div>
<div class="t g" style="left:404.4px;top:1517.6px;font-size:18.7px;color:#4c4c4c;">无症状</div>
<div class="t r" style="left:406.4px;top:1540px;font-size:18.7px;color:#3569ad;">箱船理货员</div>
<div class="t g" style="left:702.5px;top:1471px;font-size:18.7px;color:#4c4c4c;">5月22日</div>
<div class="t g" style="left:703.3px;top:1494px;font-size:18.7px;color:#4c4c4c;">诊断为</div>
<div class="t g" style="left:703.3px;top:1514.7px;font-size:18.7px;color:#4c4c4c;">无症状</div>
<div class="t r" style="left:707.4px;top:1539.7px;font-size:18.7px;color:#3569ad;">打拉绳工人</div>
<div class="t g" style="left:221px;top:1733.5px;font-size:18.7px;color:#4c4c4c;">5月25日</div>
<div class="t g" style="left:222px;top:1755.5px;font-size:18.7px;color:#4c4c4c;">诊断为</div>
<div class="t g" style="left:222px;top:1776.5px;font-size:18.7px;color:#4c4c4c;">无症状</div>
<div class="t r" style="left:220.5px;top:1802px;font-size:18.7px;color:#3569ad;">箱船理货员</div>
<div class="t g" style="left:877.7px;top:1745px;font-size:18.7px;color:#4c4c4c;">5月23日</div>
<div class="t g" style="left:879.3px;top:1767.3px;font-size:18.7px;color:#4c4c4c;">诊断为</div>
<div class="t g" style="left:879.3px;top:1789.3px;font-size:18.7px;color:#4c4c4c;">无症状</div>
<div class="t r" style="left:880px;top:1814px;font-size:18.7px;color:#3569ad;">从事科文工作</div>
<div class="t g" style="left:405px;top:1945px;font-size:18.7px;color:#4c4c4c;">5月24日</div>
<div class="t g" style="left:405.5px;top:1966.7px;font-size:18.7px;color:#4c4c4c;">诊断为</div>
<div class="t g" style="left:406px;top:1987.7px;font-size:18.7px;color:#4c4c4c;">无症状</div>
<div class="t r" style="left:406.2px;top:2012.7px;font-size:18.7px;color:#3569ad;">塔底理货工人</div>
<div class="t g" style="left:706px;top:1945px;font-size:18.7px;color:#4c4c4c;">5月23日</div>
<div class="t g" style="left:707.3px;top:1966.7px;font-size:18.7px;color:#4c4c4c;">诊断为</div>
<div class="t g" style="left:707.3px;top:1987.7px;font-size:18.7px;color:#4c4c4c;">无症状</div>
<div class="t r" style="left:707.5px;top:2012.7px;font-size:18.7px;color:#3569ad;">塔底工作人员</div>
<div class="t g" style="left:149.2px;top:2189.7px;font-size:18.7px;color:#4c4c4c;">5月27日</div>
<div class="t g" style="left:150px;top:2211px;font-size:18.7px;color:#4c4c4c;">诊断为</div>
<div class="t g" style="left:150px;top:2232.5px;font-size:18.7px;color:#4c4c4c;">无症状</div>
<div class="t r" style="left:148.6px;top:2261px;font-size:18.7px;color:#3569ad;">详情暂未公布</div>
<div class="t g" style="left:408.7px;top:2189.7px;font-size:18.7px;color:#4c4c4c;">5月25日</div>
<div class="t g" style="left:409.8px;top:2211px;font-size:18.7px;color:#4c4c4c;">诊断为</div>
<div class="t g" style="left:409.8px;top:2232.5px;font-size:18.7px;color:#4c4c4c;">无症状</div>
<div class="t r" style="left:410px;top:2261.7px;font-size:18.7px;color:#3569ad;">丈夫在</div>
<div class="t r" style="left:410.2px;top:2282px;font-size:18.7px;color:#3569ad;">盐田港区工作</div>
<div class="t g" style="left:702.2px;top:2189.7px;font-size:18.7px;color:#4c4c4c;">5月26日</div>
<div class="t g" style="left:704px;top:2211px;font-size:18.7px;color:#4c4c4c;">诊断为</div>
<div class="t g" style="left:704px;top:2232.5px;font-size:18.7px;color:#4c4c4c;">无症状</div>
<div class="t r" style="left:704.2px;top:2260.5px;font-size:18.7px;color:#3569ad;">海纳展示</div>
<div class="t r" style="left:704.2px;top:2280.4px;font-size:18.7px;color:#3569ad;">工厂员工</div>
<div class="t g" style="left:978.4px;top:2189.7px;font-size:18.7px;color:#4c4c4c;">5月26日</div>
<div class="t g" style="left:979.2px;top:2211px;font-size:18.7px;color:#4c4c4c;">诊断为</div>
<div class="t g" style="left:979.2px;top:2232.5px;font-size:18.7px;color:#4c4c4c;">无症状</div>
<div class="t r" style="left:979.2px;top:2259.8px;font-size:18.7px;color:#3569ad;">曾在海纳</div>
<div class="t r" style="left:979.2px;top:2280.4px;font-size:18.7px;color:#3569ad;">展示工厂逗留</div>
<div class="t g" style="left:570px;top:1670px;font-size:18.7px;color:#111;">6人均在盐田港区工作</div>
<div class="t g" style="left:570px;top:1697px;font-size:18.7px;color:#111;">且均参与5月17日国际货轮作业</div>
<div class="t g" style="left:570px;top:1753px;font-size:18.7px;color:#111;">其中5例</div>
<div class="t g" style="left:570px;top:1780px;font-size:18.7px;color:#111;">感染在英国出现的变异毒株</div>
<div class="t b" style="left:632px;top:1611.7px;font-size:18.7px;color:#111;">盐田</div>
<div class="t b" style="left:632px;top:1632.5px;font-size:18.7px;color:#111;">港区</div>
<div class="t b" style="left:414.2px;top:796px;font-size:18.7px;color:#111;">又一间</div>
<div class="t b" style="left:414.2px;top:816.7px;font-size:18.7px;color:#111;">茶点轩</div>
<div class="t rb" style="left:192.5px;top:618px;font-size:19px;color:#d21c2c;">5月19日</div>
<div class="t rb" style="left:192.5px;top:640px;font-size:19px;color:#d21c2c;">姚某为郭某送餐</div>
<div class="t rb" style="left:192.5px;top:661.5px;font-size:19px;color:#d21c2c;">未戴口罩</div>
<div class="t rb" style="left:435.3px;top:617px;font-size:19px;color:#d21c2c;">5月19日</div>
<div class="t rb" style="left:435.3px;top:639.5px;font-size:19px;color:#d21c2c;">同时间</div>
<div class="t rb" style="left:435.3px;top:661px;font-size:19px;color:#d21c2c;">喝早茶</div>
<div class="t rb" style="left:341px;top:942.7px;font-size:19px;color:#d21c2c;">同一时段</div>
<div class="t rb" style="left:341px;top:965px;font-size:19px;color:#d21c2c;">在其贤酒家</div>
<div class="t rb" style="left:341px;top:985.5px;font-size:19px;color:#d21c2c;">就餐</div>
<div class="t rl" style="left:363px;top:453px;font-size:23px;color:#d21c2c;">夫妻</div>
<div class="t rl" style="left:532px;top:614.8px;font-size:23px;color:#d21c2c;">夫妻</div>
<div class="t rl" style="left:616.7px;top:455px;font-size:23px;color:#d21c2c;">托管班</div>
<div class="t rl" style="left:616.3px;top:481.7px;font-size:23px;color:#d21c2c;">同学</div>
<div class="t rl" style="left:751.3px;top:455px;font-size:23px;color:#d21c2c;">同班</div>
<div class="t rl" style="left:751.3px;top:481.7px;font-size:23px;color:#d21c2c;">同学</div>
<div class="t rl" style="left:780.8px;top:588.3px;font-size:23px;color:#d21c2c;">密接者</div>
<div class="t rl" style="left:861.2px;top:728.4px;font-size:23px;color:#d21c2c;">密接者</div>
<div class="t rl" style="left:593.2px;top:723.5px;font-size:23px;color:#d21c2c;">祖孙</div>
<div class="t rl" style="left:731.8px;top:722.5px;font-size:23px;color:#d21c2c;">母子</div>
<div class="t rl" style="left:661.5px;top:837.8px;font-size:23px;color:#d21c2c;">婆媳</div>
<div class="t rl" style="left:538px;top:1025.7px;font-size:23px;color:#d21c2c;">姑侄</div>
<div class="t rl" style="left:580.5px;top:1136px;font-size:23px;color:#d21c2c;">母女</div>
<div class="t rl" style="left:863.3px;top:1011.7px;font-size:23px;color:#d21c2c;">5月24日</div>
<div class="t rl" style="left:864.2px;top:1040px;font-size:23px;color:#d21c2c;">共同参加</div>
<div class="t rl" style="left:864.5px;top:1066.7px;font-size:23px;color:#d21c2c;">培训班</div>
<div class="t rl" style="left:844.6px;top:2092.5px;font-size:23px;color:#d21c2c;">均与海纳</div>
<div class="t rl" style="left:844.2px;top:2121px;font-size:23px;color:#d21c2c;">展示工厂相关</div>
<div class="t r" style="left:272.5px;top:519px;font-size:17.5px;color:#22a9bd;">广州</div>
<div class="t s2" style="left:221.3px;top:822.8px;font-size:20px;color:#3a9a34;">茂名</div>
<div class="t s2" style="left:757.7px;top:1112.7px;font-size:18.5px;color:#f0a040;">佛山</div>
<div class="t s2" style="left:94.5px;top:221px;font-size:46px;color:#27b4c2;letter-spacing:2.5px;padding-left:2.5px">广州</div>
<div class="t sb" style="left:74px;top:844px;font-size:46px;color:#3f9a35;letter-spacing:1px;padding-left:1px">茂名</div>
<div class="t s2" style="left:1004px;top:1154.5px;font-size:45px;color:#f0a040;letter-spacing:1.5px;padding-left:1.5px">佛山</div>
<div class="t bb" style="left:90px;top:1382.5px;font-size:46px;color:#62a2e4;letter-spacing:2.5px;padding-left:2.5px">深圳</div>
<div class="t bb" style="left:567.5px;top:109.5px;font-size:49.5px;color:#f08a1c;letter-spacing:-1px;padding-left:-1px;text-shadow:1px 1px 1px rgba(190,120,40,.45)">广东本轮本土疫情感染者关系图</div>
<div class="t sm" style="left:555px;top:2338.5px;font-size:25.5px;color:#f08a1c;letter-spacing:1.2px;padding-left:1.2px">截至<span class="dg">5</span>月<span class="dg">28</span>日<span class="dg">14</span>时，广东本轮本土疫情共有<span class="dg">26</span>人感染，</div>
<div class="t sm" style="left:555px;top:2372.5px;font-size:25.5px;color:#f08a1c;letter-spacing:1.2px;padding-left:1.2px">其中确诊病例<span class="dg">4</span>例（均在广州），</div>
<div class="t sm" style="left:555px;top:2406.5px;font-size:25.5px;color:#f08a1c;letter-spacing:1.2px;padding-left:1.2px">无症状感染者<span class="dg">22</span>例（广州<span class="dg">10</span>例，深圳<span class="dg">10</span>例，茂名<span class="dg">1</span>例，佛山<span class="dg">1</span>例）。</div>
<div class="t sb l" style="left:23.5px;top:2464px;font-size:20.6px;color:#111;">数据来源：广东省卫健委、广州市卫健委、深圳市卫健委</div>
<div class="t sb l" style="left:23.5px;top:2491px;font-size:20.6px;color:#111;">制<span style="letter-spacing:2.2px">　　</span>图：人民网辽宁频道&ensp;李进媛</div>
</div></body></html>
